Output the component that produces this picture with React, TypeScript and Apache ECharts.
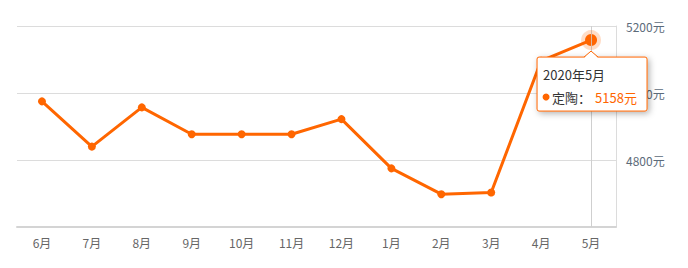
import React, { useEffect, useRef } from "react";
import * as echarts from "echarts";

const categories = ["6月", "7月", "8月", "9月", "10月", "11月", "12月", "1月", "2月", "3月", "4月", "5月"];
const values = [4975, 4840, 4957, 4877, 4877, 4877, 4922, 4775, 4698, 4703, 5096, 5158];
const seriesName = "定陶";
const tooltipTitle = "2020年5月";
const yMin = 4600;
const yMax = 5200;
const yInterval = 200;
const unit = "元";

const FONT = "'Noto Sans CJK SC', 'Microsoft YaHei', sans-serif";
const ORANGE = "#ff6600";

export default function App() {
  const ref = useRef<HTMLDivElement>(null);
  useEffect(() => {
    if (!ref.current) return;
    const chart = echarts.init(ref.current, undefined, { renderer: "svg" });
    const lastIdx = values.length - 1;
    chart.setOption({
      animation: false,
      grid: { left: 17, right: 72, top: 26, bottom: 41 },
      xAxis: {
        type: "category",
        data: categories,
        boundaryGap: true,
        axisLine: { lineStyle: { color: "#d4d4d4", width: 2 } },
        axisTick: { alignWithLabel: true, length: 4, lineStyle: { color: "#d4d4d4" } },
        axisLabel: { color: "#666", fontSize: 12, fontFamily: FONT, margin: 9 },
        splitLine: { show: false },
      },
      yAxis: {
        type: "value",
        position: "right",
        min: yMin,
        max: yMax,
        interval: yInterval,
        axisLine: { show: true, lineStyle: { color: "#dcdcdc" } },
        axisTick: { show: false },
        axisLabel: {
          showMinLabel: false,
          color: "#5c6b7a",
          fontSize: 12,
          fontFamily: FONT,
          margin: 10,
          formatter: (v: number) => v + unit,
        },
        splitLine: { lineStyle: { color: "#dcdcdc" } },
      },
      series: [
        {
          type: "line",
          name: seriesName,
          data: values.map((v, i) => (i === lastIdx ? { value: v, symbolSize: 12 } : v)),
          symbol: "circle",
          symbolSize: 8,
          itemStyle: { color: ORANGE },
          lineStyle: { color: ORANGE, width: 3 },
          markLine: {
            silent: true,
            symbol: "none",
            label: { show: false },
            lineStyle: { color: "#cfcfcf", width: 1, type: "solid" },
            data: [{ xAxis: categories[lastIdx] }],
          },
          z: 3,
        },
      ],
    });

    const [px, py] = chart.convertToPixel({ seriesIndex: 0 }, [lastIdx, values[lastIdx]]) as number[];
    const bw = 110;
    const bh = 54;
    const bx = px - 54;
    const by = py + 17;
    chart.setOption({
      graphic: [
        {
          type: "circle",
          z: 90,
          shape: { cx: px, cy: py, r: 10 },
          style: { fill: "rgba(255,102,0,0.22)" },
        },
        {
          type: "rect",
          z: 100,
          shape: { x: bx, y: by, width: bw, height: bh, r: 2 },
          style: {
            fill: "#fff",
            stroke: ORANGE,
            lineWidth: 1,
            shadowBlur: 6,
            shadowOffsetX: 2,
            shadowOffsetY: 2,
            shadowColor: "rgba(0,0,0,0.3)",
          },
        },
        {
          type: "polygon",
          z: 101,
          shape: { points: [[px - 7, by + 1], [px, by - 6], [px + 7, by + 1]] },
          style: { fill: "#fff" },
        },
        {
          type: "polyline",
          z: 102,
          shape: { points: [[px - 7, by], [px, by - 6], [px + 7, by]] },
          style: { stroke: ORANGE, lineWidth: 1, fill: "none" },
        },
        {
          type: "text",
          z: 103,
          x: bx + 6,
          y: by + 17,
          style: { text: tooltipTitle, fill: "#333", font: `13px ${FONT}`, verticalAlign: "middle" },
        },
        {
          type: "circle",
          z: 103,
          shape: { cx: bx + 9, cy: by + 40, r: 3.5 },
          style: { fill: ORANGE },
        },
        {
          type: "text",
          z: 103,
          x: bx + 15,
          y: by + 40,
          style: { text: seriesName + "：", fill: "#333", font: `13px ${FONT}`, verticalAlign: "middle" },
        },
        {
          type: "text",
          z: 103,
          x: bx + 58,
          y: by + 40,
          style: { text: values[lastIdx] + unit, fill: ORANGE, font: `13px ${FONT}`, verticalAlign: "middle" },
        },
      ],
    });
    return () => chart.dispose();
  }, []);
  return <div ref={ref} style={{ width: 688, height: 268, position: "absolute", left: 0, top: 0 }} />;
}
